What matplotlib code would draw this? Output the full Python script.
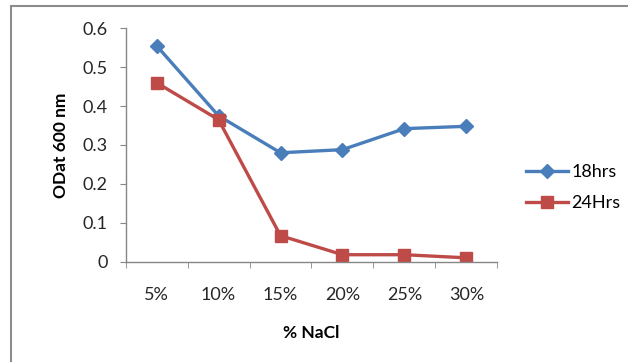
import matplotlib
matplotlib.use("Agg")
import matplotlib.pyplot as plt
from matplotlib.patches import Rectangle

categories = ["5%", "10%", "15%", "20%", "25%", "30%"]
od_18hrs = [0.555, 0.375, 0.28, 0.288, 0.342, 0.348]
od_24hrs = [0.46, 0.365, 0.067, 0.018, 0.018, 0.01]
y_ticks = [0, 0.1, 0.2, 0.3, 0.4, 0.5, 0.6]
y_tick_labels = ["0", "0.1", "0.2", "0.3", "0.4", "0.5", "0.6"]

plt.rcParams["font.family"] = ["Lato", "DejaVu Sans"]

fig = plt.figure(figsize=(6.28, 3.62), dpi=100)
ax = fig.add_axes([0.2, 0.277, 0.592, 0.645])

x = list(range(len(categories)))
ax.plot(x, od_18hrs, color="#4A7EBB", lw=2.4, marker="D", ms=7,
        label="18hrs", solid_joinstyle="round")
ax.plot(x, od_24hrs, color="#BE4B48", lw=2.4, marker="s", ms=9,
        label="24Hrs", solid_joinstyle="round")

ax.set_xlim(-0.5, len(categories) - 0.5)
ax.set_ylim(0, 0.6)
ax.set_yticks(y_ticks)
ax.set_yticklabels(y_tick_labels)
ax.set_xticks(x)
ax.set_xticklabels(categories)
ax.set_xticks([i - 0.5 for i in range(len(categories) + 1)], minor=True)

for side in ("top", "right"):
    ax.spines[side].set_visible(False)
for side in ("left", "bottom"):
    ax.spines[side].set_color("#868686")
    ax.spines[side].set_linewidth(1.0)

ax.tick_params(axis="x", which="major", length=0, pad=18, labelsize=13,
               colors="#262626")
ax.tick_params(axis="x", which="minor", length=4, color="#868686")
ax.tick_params(axis="y", length=4, pad=9, labelsize=13, color="#868686",
               labelcolor="#262626")

ax.set_xlabel("% NaCl", fontsize=12.5, fontweight="bold", labelpad=16)
ax.set_ylabel("ODat 600 nm", fontsize=12.5, fontweight="bold", labelpad=10)

leg = fig.legend(loc="center left", bbox_to_anchor=(0.812, 0.482),
                 frameon=False, fontsize=13, handlelength=2.3,
                 handletextpad=0.2, labelspacing=0.85)

fig.patches.append(Rectangle((11 / 628, -0.1), 1.2, 1.1 - 6 / 362,
                             transform=fig.transFigure, fill=False,
                             edgecolor="#8c8c8c", lw=1.5))

fig.savefig("out.png", dpi=100, facecolor="white")
